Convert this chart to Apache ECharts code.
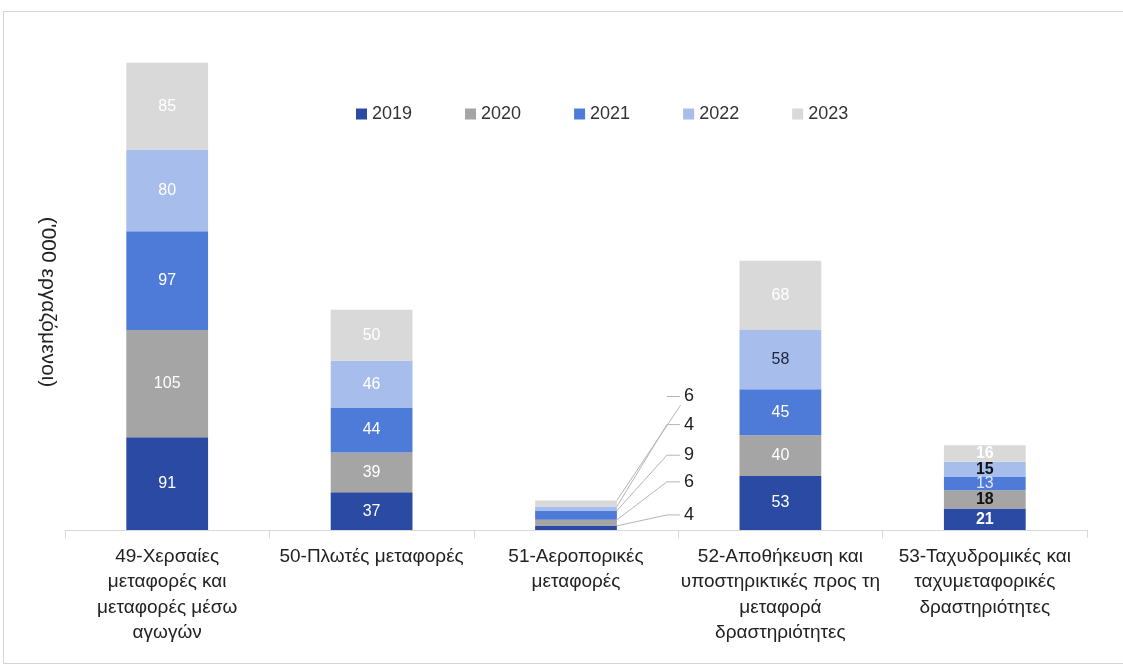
<!DOCTYPE html>
<html>
<head>
<meta charset="utf-8">
<script src="https://cdn.jsdelivr.net/npm/echarts@6/dist/echarts.min.js"></script>
<style>html,body{margin:0;padding:0;background:#fff;}#c{width:1123px;height:666px;}</style>
</head>
<body>
<div id="c"></div>
<script>
const categories = [
  '49-Χερσαίες\nμεταφορές και\nμεταφορές μέσω\nαγωγών',
  '50-Πλωτές μεταφορές',
  '51-Αεροπορικές\nμεταφορές',
  '52-Αποθήκευση και\nυποστηρικτικές προς τη\nμεταφορά\nδραστηριότητες',
  '53-Ταχυδρομικές και\nταχυμεταφορικές\nδραστηριότητες'
];
const years = ['2019', '2020', '2021', '2022', '2023'];
const v2019 = [91, 37, 4, 53, 21];
const v2020 = [105, 39, 6, 40, 18];
const v2021 = [97, 44, 9, 45, 13];
const v2022 = [80, 46, 4, 58, 15];
const v2023 = [85, 50, 6, 68, 16];
const yTitle = "('000 εργαζόμενοι)";

const values = [v2019, v2020, v2021, v2022, v2023];
const colors = ['#2a4aa3', '#a5a5a5', '#4f7bd8', '#a7bdeb', '#d9d9d9'];
const lastStyle = [
  {color: '#ffffff', fontWeight: 'bold'},
  {color: '#111111', fontWeight: 'bold'},
  {color: '#dde6ff', fontWeight: 'normal'},
  {color: '#111111', fontWeight: 'bold'},
  {color: '#ffffff', fontWeight: 'bold'}
];
const calloutDy = [-13, -41, -60, -84, -107];
const baseFont = '"Liberation Sans", Arial, sans-serif';

const series = years.map(function (y, si) {
  return {
    name: y,
    type: 'bar',
    stack: 'total',
    barWidth: '40%',
    itemStyle: {color: colors[si]},
    label: {
      show: true,
      position: 'inside',
      color: '#ffffff',
      fontSize: 16,
      fontFamily: baseFont
    },
    labelLine: {show: false},
    labelLayout: function (p) {
      if (p.dataIndex !== 2) return {};
      return {
        x: p.rect.x + p.rect.width + 50,
        y: p.rect.y + p.rect.height / 2 + calloutDy[si],
        align: 'left',
        verticalAlign: 'middle'
      };
    },
    data: values[si].map(function (v, ci) {
      const item = {value: v};
      if (ci === 2) {
        item.label = {
          position: 'right',
          formatter: '{d|}{v|{c}}',
          lineHeight: 2,
          rich: {
            d: {width: 13, height: 1, lineHeight: 2, backgroundColor: '#b5b5b5'},
            v: {fontSize: 18, lineHeight: 2, color: '#222222', padding: [0, 0, 0, 4], fontFamily: baseFont}
          }
        };
        item.labelLine = {show: true, lineStyle: {color: '#b5b5b5', width: 1}};
      } else if (ci === 4) {
        item.label = {color: lastStyle[si].color, fontWeight: lastStyle[si].fontWeight};
      } else if (ci === 3 && si === 3) {
        item.label = {color: '#1c2340'};
      }
      return item;
    })
  };
});

const chart = echarts.init(document.getElementById('c'));
chart.setOption({
  backgroundColor: '#ffffff',
  animation: false,
  legend: {
    data: years,
    left: 351,
    top: 100,
    itemWidth: 11,
    itemHeight: 11,
    itemGap: 53,
    icon: 'rect',
    textStyle: {fontSize: 18, color: '#333333', fontFamily: baseFont}
  },
  grid: {left: 65, right: 36, top: 20, bottom: 136, containLabel: false},
  xAxis: {
    type: 'category',
    data: categories,
    axisLine: {show: true, lineStyle: {color: '#d9d9d9', width: 1}},
    axisTick: {show: true, length: 8, lineStyle: {color: '#d9d9d9'}},
    axisLabel: {
      interval: 0,
      margin: 14,
      fontSize: 19,
      lineHeight: 25.5,
      color: '#222222',
      fontFamily: baseFont
    }
  },
  yAxis: {
    type: 'value',
    min: 0,
    max: 500,
    axisLine: {show: false},
    axisTick: {show: false},
    axisLabel: {show: false},
    splitLine: {show: false}
  },
  graphic: [
    {
      type: 'rect',
      shape: {x: 3.5, y: 11.5, width: 1130, height: 652},
      style: {fill: 'none', stroke: '#d4d4d4', lineWidth: 1},
      silent: true
    },
    {
      type: 'text',
      x: 48,
      y: 302,
      rotation: -Math.PI / 2,
      style: {
        text: yTitle,
        fontSize: 21,
        fill: '#222222',
        fontFamily: baseFont,
        align: 'center',
        verticalAlign: 'middle'
      }
    }
  ],
  series: series
});
</script>
</body>
</html>
